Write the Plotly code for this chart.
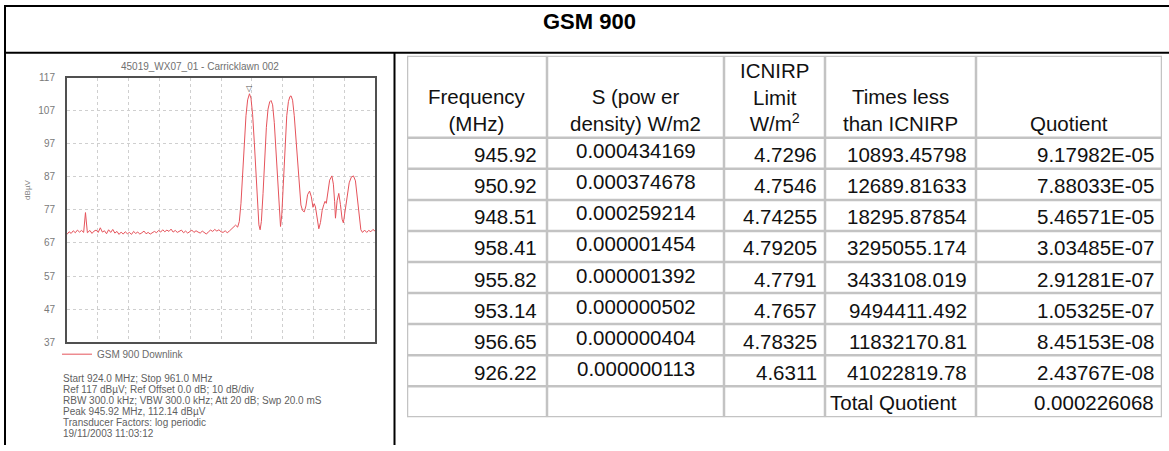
import plotly.graph_objects as go

W, H = 1169, 451

# ---------------- spectrum data ----------------
noise_freq = [924.00, 924.25, 924.50, 924.75, 925.00, 925.25, 925.50, 925.75, 926.00, 926.22,
              926.45, 926.75, 927.00, 927.25, 927.50, 927.75, 928.00, 928.25, 928.50, 928.75,
              929.00, 929.25, 929.50, 929.75, 930.00, 930.25, 930.50, 930.75, 931.00, 931.25,
              931.50, 931.75, 932.00, 932.25, 932.50, 932.75, 933.00, 933.25, 933.50, 933.75,
              934.00, 934.25, 934.50, 934.75, 935.00, 935.25, 935.50, 935.75, 936.00, 936.25,
              936.50, 936.75, 937.00, 937.25, 937.50, 937.75, 938.00, 938.25, 938.50, 938.75,
              939.00, 939.25, 939.50, 939.75, 940.00, 940.25, 940.50, 940.75, 941.00, 941.25,
              941.50, 941.75, 942.00, 942.25, 942.50, 942.75, 943.00, 943.25, 943.50, 943.75,
              944.00, 944.25, 944.50]
noise_level = [69.6, 70.4, 69.9, 70.7, 70.1, 70.9, 70.3, 70.8, 70.2, 76.2,
               70.1, 70.8, 69.9, 70.6, 70.9, 70.2, 71.6, 70.3, 70.7, 69.8,
               71.0, 70.2, 71.1, 70.0, 70.5, 69.6, 70.3, 69.7, 70.4, 69.8,
               70.2, 69.6, 70.5, 69.9, 70.3, 69.7, 70.1, 70.6, 69.8, 70.2,
               69.7, 70.0, 70.5, 70.1, 70.8, 70.3, 71.0, 70.4, 70.9, 70.5,
               71.2, 70.3, 70.8, 70.2, 70.6, 70.9, 70.1, 70.6, 70.0, 70.5,
               70.9, 70.2, 70.7, 70.3, 70.0, 70.6, 70.1, 69.7, 70.4, 70.9,
               70.5, 71.1, 70.6, 71.0, 70.4, 70.2, 70.7, 70.1, 70.6, 71.3,
               71.9, 72.4, 71.8]

carrier_freq = [944.70, 944.90, 945.10, 945.30, 945.50, 945.70, 945.92, 946.10, 946.30, 946.50,
                946.70, 946.90, 947.05, 947.20, 947.35, 947.55, 947.75, 947.95, 948.15, 948.35,
                948.51, 948.70, 948.90, 949.10, 949.30, 949.50, 949.65, 949.80, 950.00, 950.20,
                950.40, 950.60, 950.78, 950.92, 951.10, 951.30, 951.50, 951.70, 951.90, 952.10,
                952.30, 952.50, 952.70, 952.90, 953.14, 953.35, 953.55, 953.70, 953.85, 954.05,
                954.25, 954.45, 954.65, 954.85, 955.00, 955.15, 955.35, 955.55, 955.82, 956.00,
                956.15, 956.25, 956.45, 956.65, 956.85, 957.05, 957.20, 957.40, 957.65, 957.90,
                958.15, 958.41, 958.65, 958.90, 959.10, 959.30, 959.50]
carrier_level = [73.5, 79.0, 88.5, 98.0, 105.5, 110.3, 112.14, 110.8, 105.8, 97.5,
                 87.5, 78.0, 72.5, 71.0, 73.5, 82.0, 93.0, 102.0, 107.5, 109.7,
                 110.1, 108.8, 103.5, 94.5, 84.0, 75.5, 72.0, 75.5, 86.0, 97.5,
                 105.5, 109.8, 111.3, 111.5, 110.2, 105.5, 98.5, 90.5, 83.5, 78.5,
                 76.8, 76.4, 78.2, 81.6, 82.7, 81.0, 77.8, 78.9, 77.9, 74.0,
                 71.3, 73.2, 76.8, 78.6, 79.6, 79.0, 82.0, 86.0, 87.3, 84.8,
                 79.5, 74.5, 79.8, 82.0, 78.6, 74.2, 73.1, 76.2, 81.3, 85.2,
                 86.9, 87.3, 85.8, 80.5, 74.8, 71.0, 70.2]

tail_freq = [959.75, 960.00, 960.25, 960.50, 960.75, 961.00]
tail_level = [70.9, 70.2, 70.8, 70.4, 71.1, 70.6]

y_ticks = [37, 47, 57, 67, 77, 87, 97, 107, 117]
sweep_start, sweep_stop = 924.0, 961.0
peak_freq, peak_level = 945.92, 112.14

chart_title = "45019_WX07_01 - Carricklawn 002"
trace_name = "GSM 900 Downlink"
info_lines = [
    "Start 924.0 MHz; Stop 961.0 MHz",
    "Ref 117 dB\u00b5V; Ref Offset 0.0 dB; 10 dB/div",
    "RBW 300.0 kHz; VBW 300.0 kHz; Att 20 dB; Swp 20.0 mS",
    "Peak 945.92 MHz, 112.14 dB\u00b5V",
    "Transducer Factors: log periodic",
    "19/11/2003 11:03:12",
]

# ---------------- table data ----------------
page_title = "GSM 900"
col_headers = ["Frequency<br>(MHz)", "S (pow er<br>density) W/m2",
               "ICNIRP<br>Limit<br>W/m<sup>2</sup>", "Times less<br>than ICNIRP", "Quotient"]
freq_col = ["945.92", "950.92", "948.51", "958.41", "955.82", "953.14", "956.65", "926.22"]
s_col = ["0.000434169", "0.000374678", "0.000259214", "0.000001454", "0.000001392",
         "0.000000502", "0.000000404", "0.000000113"]
limit_col = ["4.7296", "4.7546", "4.74255", "4.79205", "4.7791", "4.7657", "4.78325", "4.6311"]
times_col = ["10893.45798", "12689.81633", "18295.87854", "3295055.174", "3433108.019",
             "9494411.492", "11832170.81", "41022819.78"]
quot_col = ["9.17982E-05", "7.88033E-05", "5.46571E-05", "3.03485E-07", "2.91281E-07",
            "1.05325E-07", "8.45153E-08", "2.43767E-08"]
total_label = "Total Quotient"
total_value = "0.000226068"

# ---------------- styling ----------------
TRACE = "#e5535b"
FONT = "Liberation Sans, Arial, sans-serif"
TFONT = 20.5
GRID_T = "#c3c3c3"
col_widths = [140, 177, 101, 151, 186]          # table column widths (px)
col_align = ["right", "center", "right", "right", "right"]
col_pad = [8, 0, 6, 7, 6]
col_yshift = [-1.5, 2.5, -1.5, -1.5, -1.5]
header_h, row_h = 82, 31

# vertical placement helper (target pixel row -> paper fraction)
SY_OFF, SY_SCALE = 5.4, 0.974


def py(y):
    return (y - SY_OFF) / SY_SCALE


def Y(y):
    return 1 - py(y) / H


freq = noise_freq + carrier_freq + tail_freq
level = noise_level + carrier_level + tail_level

fig = go.Figure()
fig.add_trace(go.Scatter(x=freq, y=level, mode="lines", name=trace_name,
                         line=dict(color=TRACE, width=1), hoverinfo="skip"))

col_edges = [0]
for w in col_widths:
    col_edges.append(col_edges[-1] + w)
n_rows = len(freq_col) + 1
row_edges = [0, header_h] + [header_h + row_h * (i + 1) for i in range(n_rows)]
table_w, table_h = col_edges[-1], row_edges[-1]

fig.update_layout(
    width=W, height=H, margin=dict(l=0, r=0, t=0, b=0),
    paper_bgcolor="white", plot_bgcolor="white",
    font=dict(family=FONT),
    showlegend=True,
    legend=dict(x=57 / W, y=Y(354), xanchor="left", yanchor="middle",
                bgcolor="rgba(0,0,0,0)", font=dict(size=10, color="#6a6a6a")),
    xaxis=dict(domain=[67 / W, 375 / W], range=[sweep_start, sweep_stop],
               tick0=sweep_start, dtick=(sweep_stop - sweep_start) / 10,
               showticklabels=False, ticks="", showgrid=True, gridcolor="#cfcfcf",
               griddash="dot", gridwidth=1, zeroline=False,
               showline=True, mirror=True, linecolor="#505050", linewidth=2),
    yaxis=dict(domain=[Y(342), Y(78)], range=[37, 117],
               tickvals=y_ticks, ticktext=[str(v) for v in y_ticks],
               tickfont=dict(size=10, color="#7a7a7a"), ticks="",
               ticklabelstandoff=8,
               showgrid=True, gridcolor="#cfcfcf", griddash="dot", gridwidth=1,
               zeroline=False, showline=True, mirror=True,
               linecolor="#505050", linewidth=2),
    # table coordinate system
    xaxis2=dict(domain=[407 / W, 1162 / W], range=[0, table_w], anchor="y2",
                visible=False, fixedrange=True),
    yaxis2=dict(domain=[Y(56 + table_h), Y(56)], range=[table_h, 0], anchor="x2",
                visible=False, fixedrange=True),
)

ann = []
ann.append(dict(text=f"<b>{page_title}</b>", x=589 / W, y=Y(22), xref="paper", yref="paper",
                showarrow=False, font=dict(size=22, color="#000000", family=FONT),
                xanchor="center", yanchor="middle"))
ann.append(dict(text=chart_title, x=200 / W, y=Y(67), xref="paper", yref="paper",
                showarrow=False, font=dict(size=10, color="#707070"),
                xanchor="center", yanchor="middle"))
ann.append(dict(text="dB\u00b5V", x=28 / W, y=Y(190), xref="paper", yref="paper",
                showarrow=False, textangle=-90, font=dict(size=8, color="#808080"),
                xanchor="center", yanchor="middle"))
ann.append(dict(text="\u25bd", x=peak_freq, y=peak_level, xref="x", yref="y",
                showarrow=False, yshift=5, font=dict(size=8, color="#555555", family="DejaVu Sans"),
                xanchor="center", yanchor="middle"))
for i, line in enumerate(info_lines):
    ann.append(dict(text=line, x=61 / W, y=Y(378 + i * 11.1), xref="paper", yref="paper",
                    showarrow=False, font=dict(size=10, color="#5f5f5f"),
                    xanchor="left", yanchor="middle"))

# table header text
tfont = dict(family=FONT, size=TFONT, color="#111111")
for j, htxt in enumerate(col_headers):
    ann.append(dict(text=htxt, x=(col_edges[j] + col_edges[j + 1]) / 2, y=header_h - 1,
                    xref="x2", yref="y2", showarrow=False, align="center",
                    xanchor="center", yanchor="bottom", font=tfont))

# table body text
columns = [freq_col, s_col, limit_col, times_col, quot_col]
for j, col in enumerate(columns):
    for i, val in enumerate(col):
        yc = header_h + row_h * (i + 0.5)
        if col_align[j] == "right":
            x, xa = col_edges[j + 1] - col_pad[j], "right"
        else:
            x, xa = (col_edges[j] + col_edges[j + 1]) / 2, "center"
        ann.append(dict(text=val, x=x, y=yc, xref="x2", yref="y2", showarrow=False,
                        xanchor=xa, yanchor="middle", yshift=col_yshift[j], font=tfont))
yc = header_h + row_h * (n_rows - 0.5)
ann.append(dict(text=total_label, x=col_edges[3] + 3, y=yc, xref="x2", yref="y2",
                showarrow=False, xanchor="left", yanchor="middle", yshift=-0.5, font=tfont))
ann.append(dict(text=total_value, x=col_edges[5] - col_pad[4], y=yc, xref="x2", yref="y2",
                showarrow=False, xanchor="right", yanchor="middle", yshift=-0.5, font=tfont))
fig.update_layout(annotations=ann)


# frame lines (paper coordinates) + table grid (table coordinates)
def hline(yp, x0, x1, w=2):
    return dict(type="line", xref="paper", yref="paper", x0=x0 / W, x1=x1 / W,
                y0=1 - yp / H, y1=1 - yp / H, line=dict(color="black", width=w))


def vline(x, yp0, yp1):
    return dict(type="line", xref="paper", yref="paper", x0=x / W, x1=x / W,
                y0=1 - yp0 / H, y1=1 - yp1 / H, line=dict(color="black", width=2))


shapes = [hline(max(py(5), 1.0), 5, 1169, 2), hline(py(53), 5, 1169),
          vline(5, max(py(5), 0), H), vline(394.5, py(53), H)]
for xe in col_edges:
    shapes.append(dict(type="line", xref="x2", yref="y2", x0=xe, x1=xe, y0=0, y1=table_h,
                       line=dict(color=GRID_T, width=2.5)))
for ye in row_edges:
    shapes.append(dict(type="line", xref="x2", yref="y2", x0=-1, x1=table_w + 1, y0=ye, y1=ye,
                       line=dict(color=GRID_T, width=2.5)))
fig.update_layout(shapes=shapes)

fig.write_html("out.html", config={"displayModeBar": False},
               post_script="document.body.style.margin='0px';document.body.style.overflow='hidden';")
